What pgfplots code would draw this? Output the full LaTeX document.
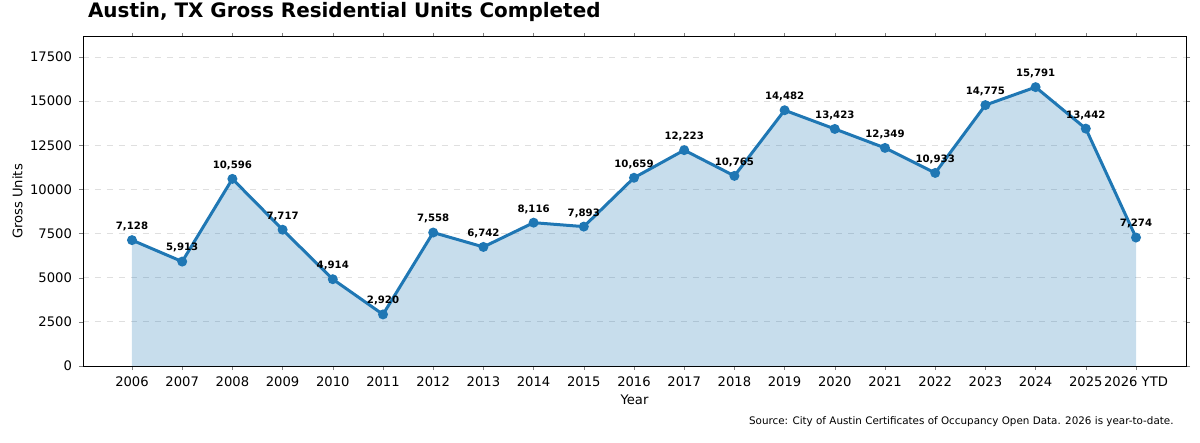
\documentclass[border=0pt]{standalone}
\usepackage{pgfplots}
\pgfplotsset{compat=1.18}
\usepackage{fontspec}
\setmainfont{DejaVu Sans}
\definecolor{mplblue}{HTML}{1F77B4}
\begin{document}
\begin{tikzpicture}
\useasboundingbox (-41.5bp,-38.5bp) rectangle (558.5bp,183bp);
\begin{axis}[
  scale only axis, width=551.5bp, height=164.5bp,
  xmin=-0.976, xmax=20.996, ymin=0, ymax=18630,
  xtick={0,...,20},
  xticklabels={2006,2007,2008,2009,2010,2011,2012,2013,2014,2015,2016,2017,2018,2019,2020,2021,2022,2023,2024,2025,2026 YTD},
  ytick={0,2500,...,17500},
  scaled y ticks=false,
  yticklabel style={/pgf/number format/1000 sep={}, /pgf/number format/fixed},
  /pgf/number format/assume math mode=true,
  tick label style={font=\fontsize{6.6}{8}\selectfont},
  label style={font=\fontsize{6.6}{8}\selectfont},
  xlabel={Year}, ylabel={Gross Units},
  xlabel style={yshift=3bp}, ylabel style={yshift=-3bp},
  ymajorgrids, grid style={dashed, gray!25, line width=0.4bp},
  tick align=outside, major tick length=2bp,
  axis line style={line width=0.5bp},
  title={\bfseries Austin, TX Gross Residential Units Completed},
  title style={font=\fontsize{10}{12}\selectfont, anchor=south west, at={(0,1)}, yshift=-2bp, xshift=-1bp},
]
\addplot[fill=mplblue, fill opacity=0.25, draw=none] coordinates {
(0,7128)(1,5913)(2,10596)(3,7717)(4,4914)(5,2920)(6,7558)(7,6742)(8,8116)(9,7893)(10,10659)(11,12223)(12,10765)(13,14482)(14,13423)(15,12349)(16,10933)(17,14775)(18,15791)(19,13442)(20,7274)} \closedcycle;
\addplot[mplblue, line width=1.5bp, mark=*, mark size=1.7bp,
  nodes near coords, point meta=explicit symbolic,
  every node near coord/.style={font=\fontsize{5.1}{6}\selectfont\bfseries, text=black, yshift=0.5bp}]
 coordinates {
(0,7128)[7,128](1,5913)[5,913](2,10596)[10,596](3,7717)[7,717](4,4914)[4,914](5,2920)[2,920](6,7558)[7,558](7,6742)[6,742](8,8116)[8,116](9,7893)[7,893](10,10659)[10,659](11,12223)[12,223](12,10765)[10,765](13,14482)[14,482](14,13423)[13,423](15,12349)[12,349](16,10933)[10,933](17,14775)[14,775](18,15791)[15,791](19,13442)[13,442](20,7274)[7,274]};
\end{axis}
\node[anchor=east, font=\fontsize{5.2}{6}\selectfont, inner sep=0] at (545.5bp,-28bp) {Source: City of Austin Certificates of Occupancy Open Data. 2026 is year-to-date.};
\end{tikzpicture}
\end{document}
